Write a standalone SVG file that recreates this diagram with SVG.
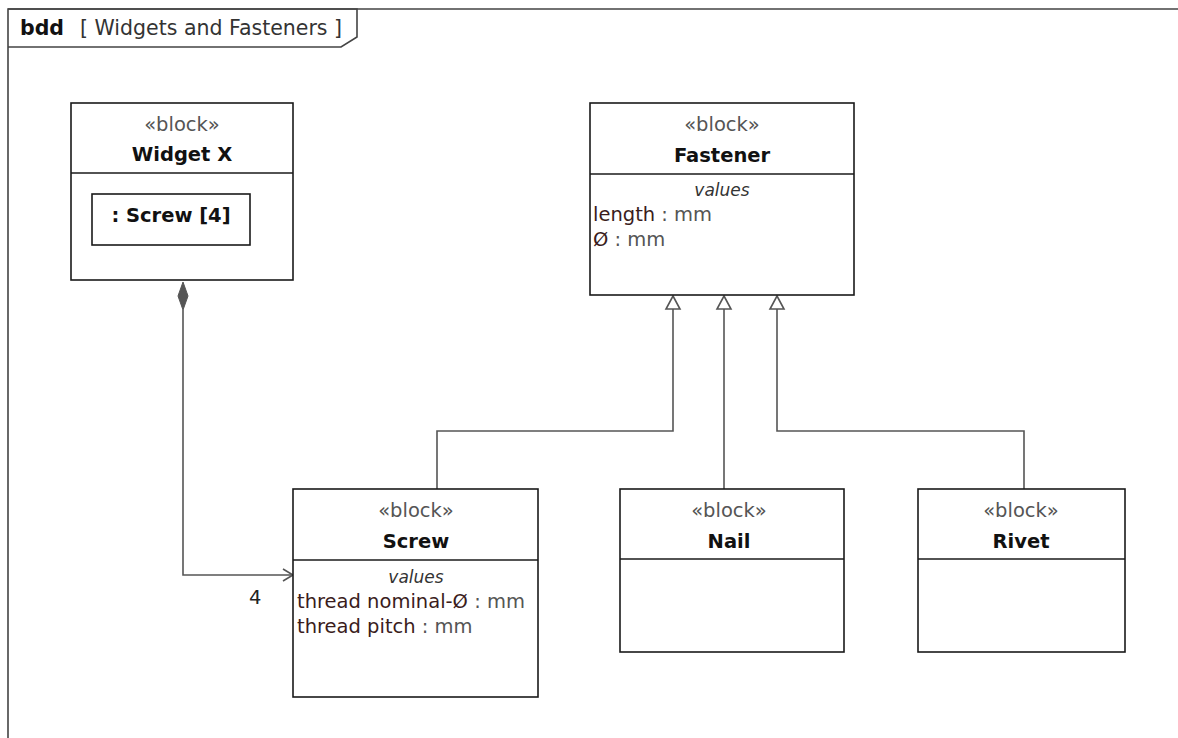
<svg xmlns="http://www.w3.org/2000/svg" width="1178" height="738" viewBox="0 0 1178 738">
  <defs>
    <style>
      text { font-family: "DejaVu Sans", "Liberation Sans", sans-serif; font-size: 19.5px; }
      .box { fill: #ffffff; stroke: #1a1a1a; stroke-width: 1.6; }
      .sep { stroke: #1a1a1a; stroke-width: 1.6; }
      .stereo { fill: #555555; text-anchor: middle; }
      .name { font-weight: bold; fill: #111111; text-anchor: middle; }
      .comp { font-style: italic; font-size: 17px; fill: #333333; text-anchor: middle; }
      .attr { fill: #3a1c1c; }
      .type { fill: #555555; }
      .title { font-size: 20.5px; }
      .frame { fill: none; stroke: #444444; stroke-width: 1.6; }
      .edge { fill: none; stroke: #555555; stroke-width: 1.6; }
      .gen { fill: #ffffff; stroke: #555555; stroke-width: 1.6; }
    </style>
  </defs>

  <rect width="1178" height="738" fill="#ffffff"/>

  <!-- diagram frame and header tab -->
  <g id="frame">
    <path class="frame" d="M8,738 V9 H1178"/>
    <path class="frame" d="M8,9 H357 V37 L341,47 H8"/>
    <text class="title" x="20" y="35" style="font-weight:bold;fill:#111">bdd</text>
    <text class="title" x="80" y="35" fill="#333">[ Widgets and Fasteners ]</text>
  </g>

  <!-- connectors -->
  <g id="connectors">
    <!-- composition: Widget X to Screw -->
    <path class="edge" d="M183,310 V575 H293"/>
    <path fill="#555555" stroke="#555555" stroke-width="1" d="M183,282 L188,296 L183,310 L178,296 Z"/>
    <path class="edge" d="M283,569 L293,575 L283,581"/>
    <text x="249" y="604" fill="#222">4</text>

    <!-- generalizations to Fastener -->
    <path class="edge" d="M673,309 V431 H437 V489"/>
    <path class="edge" d="M724,309 V489"/>
    <path class="edge" d="M777,309 V431 H1024 V489"/>
    <path class="gen" d="M673,296 L680,309 L666,309 Z"/>
    <path class="gen" d="M724,296 L731,309 L717,309 Z"/>
    <path class="gen" d="M777,296 L784,309 L770,309 Z"/>
  </g>

  <!-- Widget X -->
  <g id="widget-x">
    <rect class="box" x="71" y="103" width="222" height="177"/>
    <line class="sep" x1="71" y1="173" x2="293" y2="173"/>
    <text class="stereo" x="182" y="131">«block»</text>
    <text class="name" x="182" y="161">Widget X</text>
    <rect class="box" x="92" y="194" width="158" height="51"/>
    <text x="171" y="222" style="font-weight:bold;fill:#111;text-anchor:middle">: Screw [4]</text>
  </g>

  <!-- Fastener -->
  <g id="fastener">
    <rect class="box" x="590" y="103" width="264" height="192"/>
    <line class="sep" x1="590" y1="174" x2="854" y2="174"/>
    <text class="stereo" x="722" y="131">«block»</text>
    <text class="name" x="722" y="162">Fastener</text>
    <text class="comp" x="722" y="196">values</text>
    <text x="593" y="221"><tspan class="attr">length</tspan><tspan class="type"> : mm</tspan></text>
    <text x="593" y="246"><tspan class="attr">Ø</tspan><tspan class="type"> : mm</tspan></text>
  </g>

  <!-- Screw -->
  <g id="screw">
    <rect class="box" x="293" y="489" width="245" height="208"/>
    <line class="sep" x1="293" y1="560" x2="538" y2="560"/>
    <text class="stereo" x="416" y="517">«block»</text>
    <text class="name" x="416" y="548">Screw</text>
    <text class="comp" x="416" y="583">values</text>
    <text x="297" y="608"><tspan class="attr">thread nominal-Ø</tspan><tspan class="type"> : mm</tspan></text>
    <text x="297" y="633"><tspan class="attr">thread pitch</tspan><tspan class="type"> : mm</tspan></text>
  </g>

  <!-- Nail -->
  <g id="nail">
    <rect class="box" x="620" y="489" width="224" height="163"/>
    <line class="sep" x1="620" y1="559" x2="844" y2="559"/>
    <text class="stereo" x="729" y="517">«block»</text>
    <text class="name" x="729" y="548">Nail</text>
  </g>

  <!-- Rivet -->
  <g id="rivet">
    <rect class="box" x="918" y="489" width="207" height="163"/>
    <line class="sep" x1="918" y1="559" x2="1125" y2="559"/>
    <text class="stereo" x="1021" y="517">«block»</text>
    <text class="name" x="1021" y="548">Rivet</text>
  </g>
</svg>
